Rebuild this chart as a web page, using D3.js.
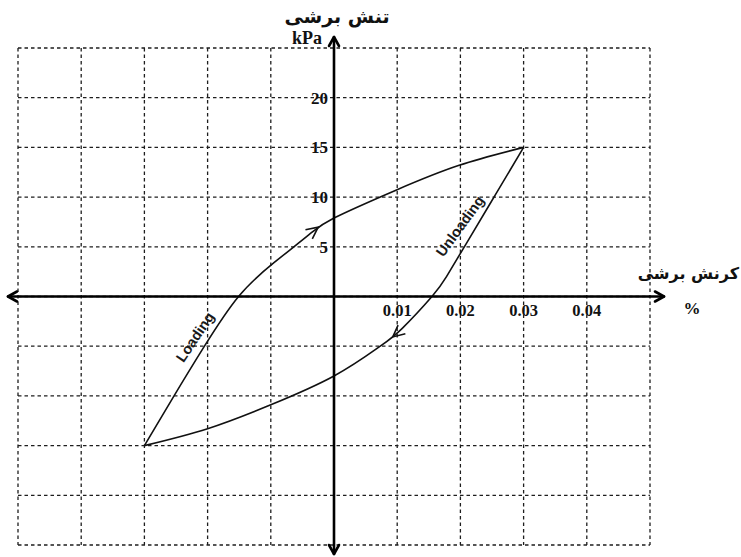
<!DOCTYPE html>
<html>
<head>
<meta charset="utf-8">
<script src="https://cdn.jsdelivr.net/npm/d3@7"></script>
<style>
  body { margin: 0; background: #fff; }
  svg { display: block; }
  .tick-lbl { font-family: "Liberation Serif", "Times New Roman", serif; font-weight: bold; fill: #111; }
  .fa { font-family: "DejaVu Sans", sans-serif; font-weight: bold; fill: #111; }
  .curve-lbl { font-family: "Liberation Sans", Arial, sans-serif; font-weight: bold; fill: #1a1a1a; }
</style>
</head>
<body>
<svg id="chart" width="741" height="557"></svg>
<script>
// tick labels
var xTicks = [0.01, 0.02, 0.03, 0.04];
var yTicks = [5, 10, 15, 20];
// dashed grid positions
var gridX = [-0.05, -0.04, -0.03, -0.02, -0.01, 0, 0.01, 0.02, 0.03, 0.04, 0.05];
var gridY = [-25, -20, -15, -10, -5, 0, 5, 10, 15, 20, 25];

// loading branch (lower-left tip -> upper-right tip)
var loadX = [-0.03, -0.0255, -0.0205, -0.0151, -0.0095, -0.004, 0, 0.0098, 0.0198, 0.03];
var loadY = [-15, -10.2, -5.0, 0, 3.4, 6.2, 7.9, 10.7, 13.2, 15];
// unloading branch (upper-right tip -> lower-left tip)
var unloadX = [0.03, 0.0255, 0.021, 0.0178, 0.0155, 0.0108, 0.0071, 0, -0.01, -0.02, -0.03];
var unloadY = [15, 10.2, 5.4, 2.0, 0, -3.2, -5.1, -8, -10.9, -13.3, -15];

// where the direction arrows sit on each branch
var arrowAtX = [-0.0025, 0.0093];

var svg = d3.select("#chart");

var x = d3.scaleLinear().domain([-0.05, 0.05]).range([18, 650]);
var y = d3.scaleLinear().domain([-25, 25]).range([545, 48]);

var x0 = x(0), y0 = y(0);

// grid
var grid = svg.append("g")
    .attr("stroke", "#1e1e1e")
    .attr("stroke-width", 1.3)
    .attr("stroke-dasharray", "3.5,3");

grid.selectAll(".gv")
  .data(gridX)
  .enter().append("line")
    .attr("x1", function(d) { return x(d); })
    .attr("x2", function(d) { return x(d); })
    .attr("y1", y(25))
    .attr("y2", y(-25));

grid.selectAll(".gh")
  .data(gridY)
  .enter().append("line")
    .attr("x1", x(-0.05))
    .attr("x2", x(0.05))
    .attr("y1", function(d) { return y(d); })
    .attr("y2", function(d) { return y(d); });

// hysteresis loop, both branches drawn left to right
var line = d3.line()
    .x(function(d) { return x(d[0]); })
    .y(function(d) { return y(d[1]); })
    .curve(d3.curveNatural);

var loadPts = loadX.map(function(d, i) { return [d, loadY[i]]; });
var unloadPts = unloadX.map(function(d, i) { return [d, unloadY[i]]; }).reverse();

var branches = svg.append("g")
    .attr("fill", "none")
    .attr("stroke", "#111")
    .attr("stroke-width", 1.6);

var pLoad = branches.append("path").attr("d", line(loadPts));
var pUnload = branches.append("path").attr("d", line(unloadPts));

// open arrow head on the path at x value; flip=true points it backwards
function arrowOn(path, xv, flip) {
  var node = path.node();
  var total = node.getTotalLength();
  var px = x(xv);
  var lo = 0, hi = total;
  for (var k = 0; k < 40; k++) {
    var mid = (lo + hi) / 2;
    if (node.getPointAtLength(mid).x < px) lo = mid; else hi = mid;
  }
  var L = (lo + hi) / 2;
  var tip = node.getPointAtLength(L);
  var back = node.getPointAtLength(flip ? Math.min(total, L + 3) : Math.max(0, L - 3));
  var ang = Math.atan2(tip.y - back.y, tip.x - back.x);
  var len = 13, spread = 0.45;
  var a1 = [tip.x - len * Math.cos(ang - spread), tip.y - len * Math.sin(ang - spread)];
  var a2 = [tip.x - len * Math.cos(ang + spread), tip.y - len * Math.sin(ang + spread)];
  branches.append("path")
      .attr("d", "M" + a1 + "L" + [tip.x, tip.y] + "L" + a2);
}

arrowOn(pLoad, arrowAtX[0], false);
arrowOn(pUnload, arrowAtX[1], true);

// axes
var axes = svg.append("g")
    .attr("stroke", "#000")
    .attr("stroke-width", 2.6)
    .attr("fill", "none")
    .attr("stroke-linecap", "round")
    .attr("stroke-linejoin", "round");

axes.append("line").attr("x1", 8).attr("x2", 664).attr("y1", y0).attr("y2", y0);
axes.append("line").attr("x1", x0).attr("x2", x0).attr("y1", 37).attr("y2", 554);

axes.append("path").attr("d", "M17," + (y0 - 5) + "L8," + y0 + "L17," + (y0 + 5));
axes.append("path").attr("d", "M655," + (y0 - 5) + "L664," + y0 + "L655," + (y0 + 5));
axes.append("path").attr("d", "M" + (x0 - 5) + ",46L" + x0 + ",37L" + (x0 + 5) + ",46");
axes.append("path").attr("d", "M" + (x0 - 5) + ",545L" + x0 + ",554L" + (x0 + 5) + ",545");

// tick labels
svg.selectAll(".ylab")
  .data(yTicks)
  .enter().append("text")
    .attr("class", "tick-lbl")
    .attr("x", x0 - 6)
    .attr("y", function(d) { return y(d) + 6; })
    .attr("text-anchor", "end")
    .attr("font-size", 17)
    .text(function(d) { return d; });

svg.selectAll(".xlab")
  .data(xTicks)
  .enter().append("text")
    .attr("class", "tick-lbl")
    .attr("x", function(d) { return x(d); })
    .attr("y", y0 + 19)
    .attr("text-anchor", "middle")
    .attr("font-size", 16.5)
    .text(function(d) { return d3.format(".2f")(d); });

svg.append("text")
    .attr("class", "tick-lbl")
    .attr("x", x0 - 12)
    .attr("y", 44)
    .attr("text-anchor", "end")
    .attr("font-size", 18)
    .text("kPa");

svg.append("text")
    .attr("class", "tick-lbl")
    .attr("x", 692)
    .attr("y", 314)
    .attr("text-anchor", "middle")
    .attr("font-size", 17)
    .text("%");

// axis titles (Persian)
svg.append("text")
    .attr("class", "fa")
    .attr("x", x0 + 3)
    .attr("y", 23)
    .attr("text-anchor", "middle")
    .attr("font-size", 19)
    .attr("direction", "rtl")
    .text("تنش برشی");

svg.append("text")
    .attr("class", "fa")
    .attr("x", 739)
    .attr("y", 279)
    .attr("text-anchor", "start")
    .attr("font-size", 16)
    .attr("direction", "rtl")
    .text("کرنش برشی");

// branch labels
svg.append("text")
    .attr("class", "curve-lbl")
    .attr("transform", "translate(195,337) rotate(-56)")
    .attr("text-anchor", "middle")
    .attr("dy", "0.35em")
    .attr("font-size", 14.5)
    .text("Loading");

svg.append("text")
    .attr("class", "curve-lbl")
    .attr("transform", "translate(460,226) rotate(-54)")
    .attr("text-anchor", "middle")
    .attr("dy", "0.35em")
    .attr("font-size", 14.5)
    .text("Unloading");
</script>
</body>
</html>
